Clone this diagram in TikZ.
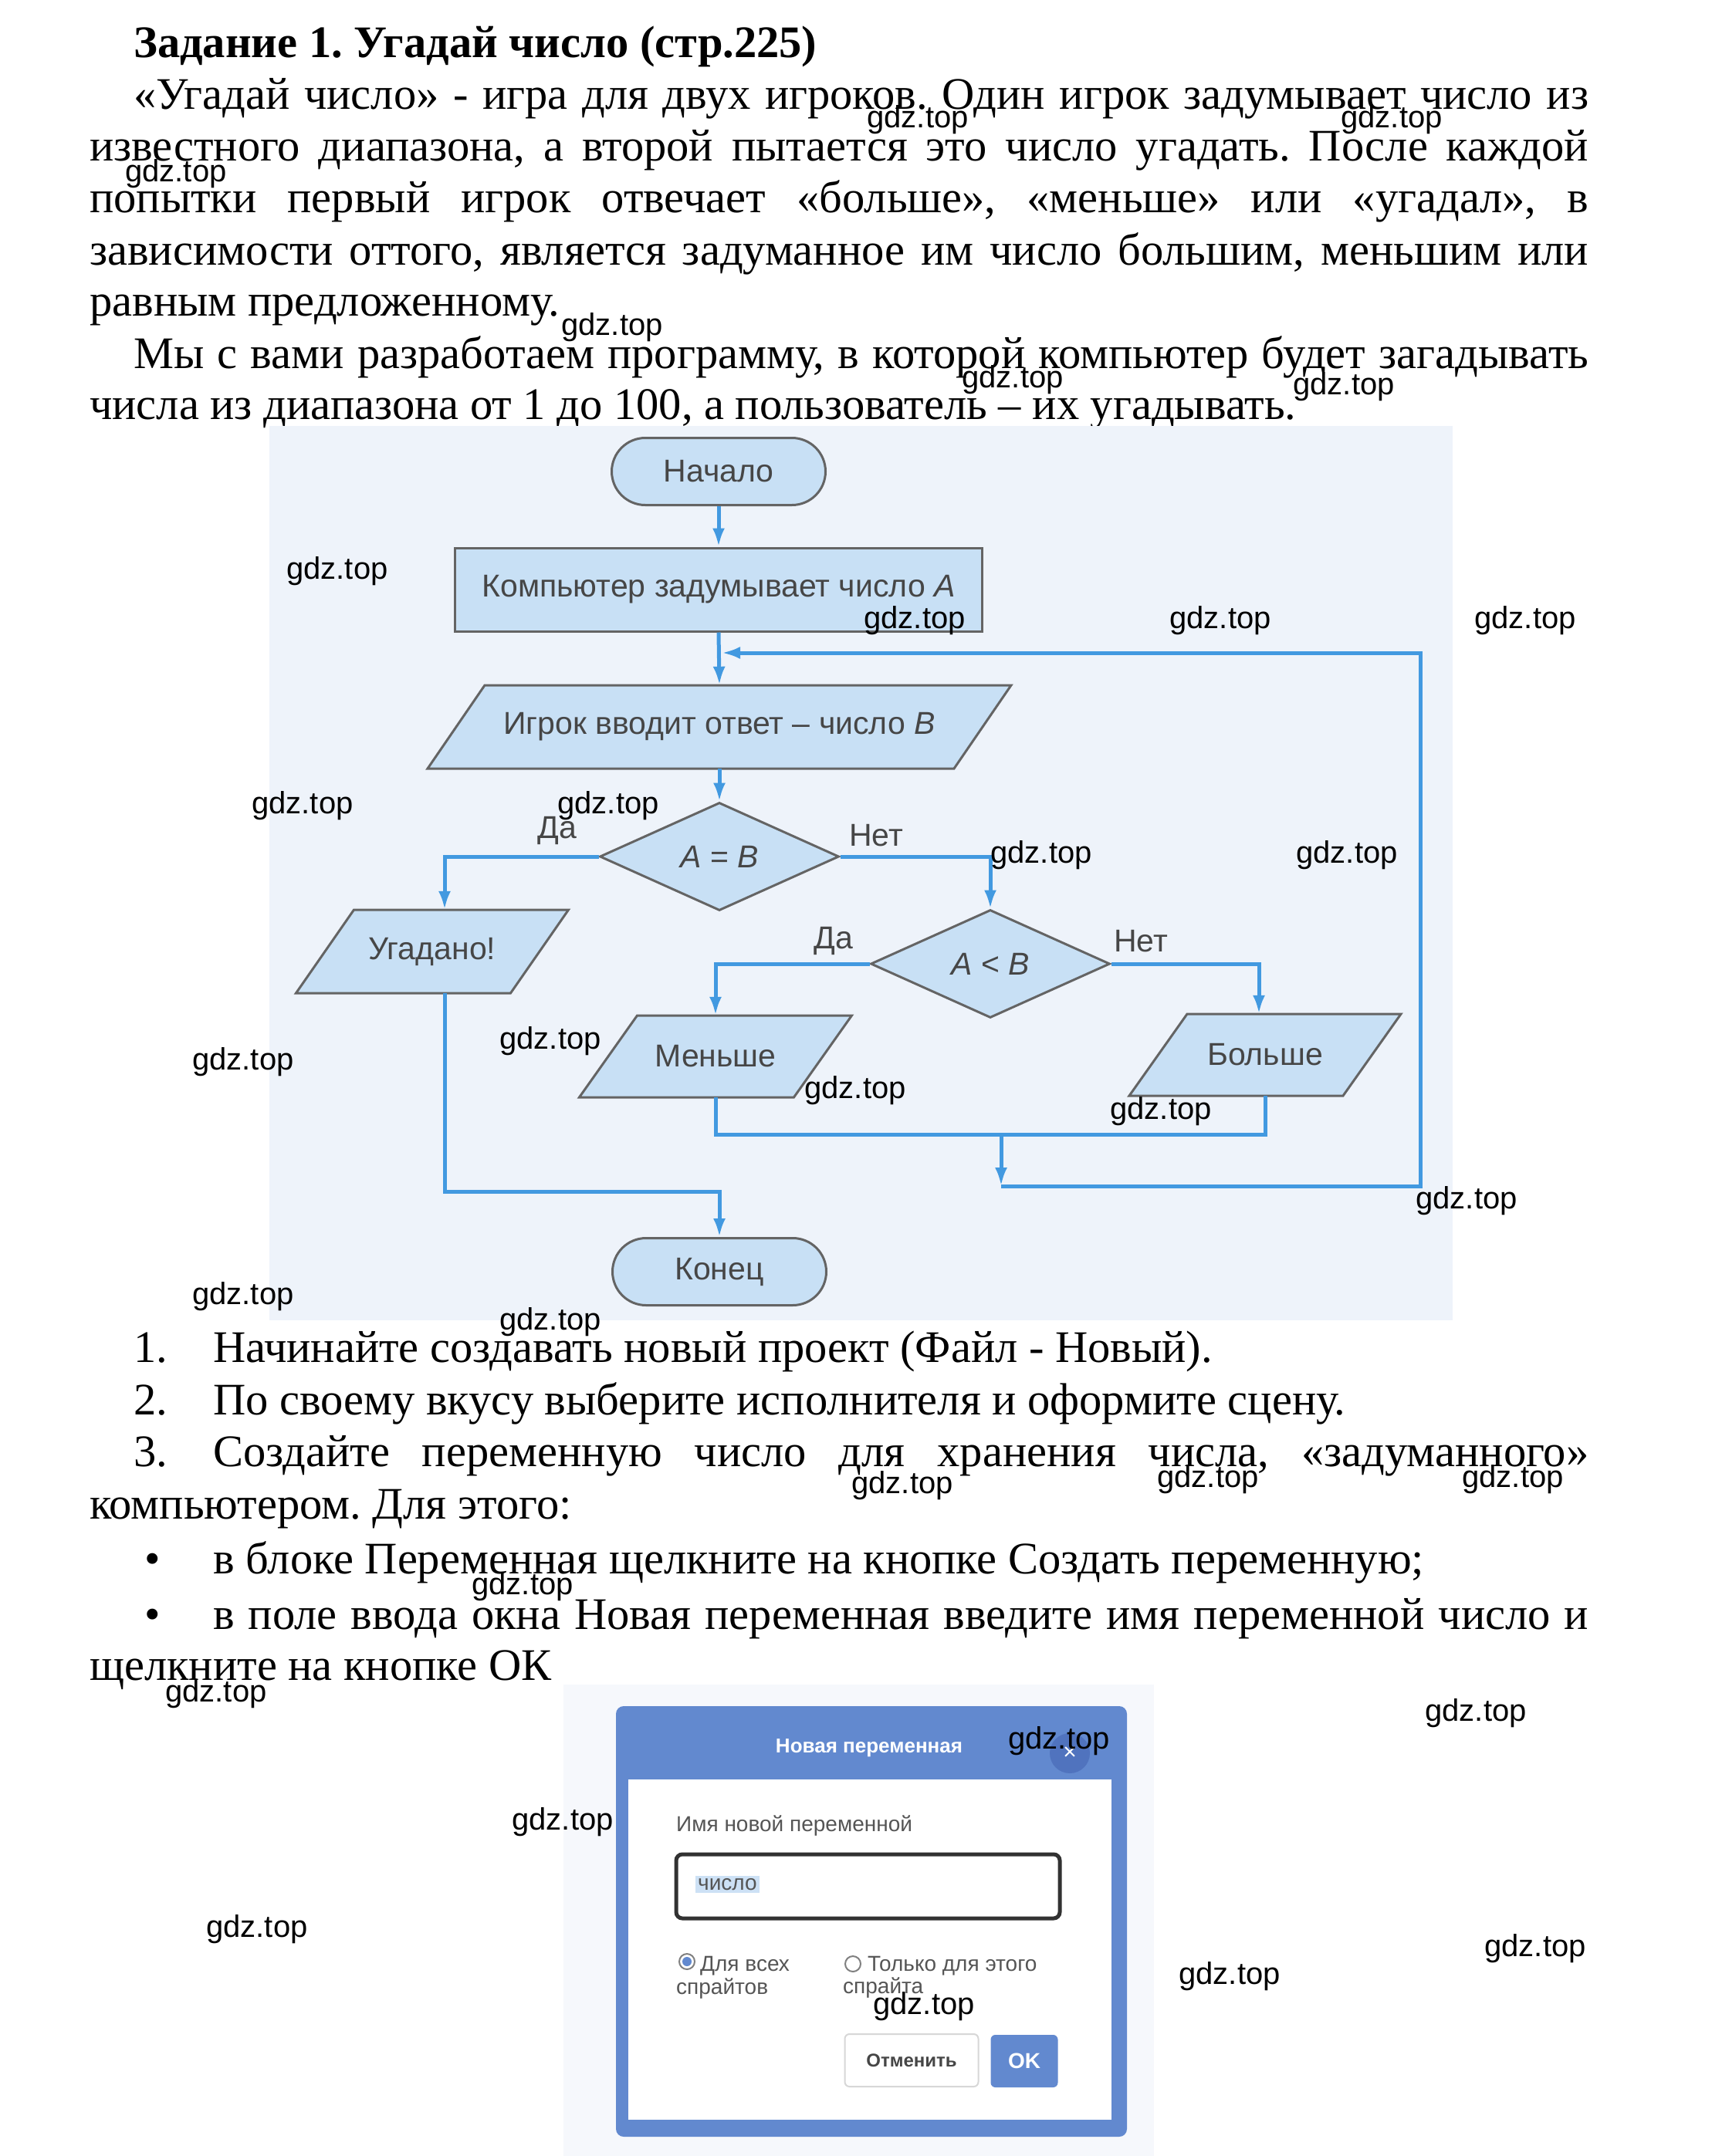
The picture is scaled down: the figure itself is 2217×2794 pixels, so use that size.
\documentclass[tikz,border=0pt]{standalone}
\usepackage{fontspec}
\setmainfont{Liberation Serif}
\newfontfamily\arialf{Liberation Sans}
\usetikzlibrary{shapes.misc,shapes.geometric,arrows.meta}
\definecolor{shapefill}{RGB}{200,224,245}
\definecolor{shapeline}{RGB}{100,100,100}
\definecolor{fctext}{RGB}{70,70,70}
\definecolor{flowblue}{RGB}{66,153,224}
\definecolor{fcbg}{RGB}{238,243,250}
\definecolor{dlgbg}{RGB}{246,248,252}
\definecolor{dlgblue}{RGB}{98,137,207}
\definecolor{dlgdark}{RGB}{80,115,190}
\definecolor{dlgtext}{RGB}{85,85,85}
\definecolor{hilite}{RGB}{205,225,245}
\newcommand\bodyfs{\fontsize{58.5}{70}\selectfont}
\newcommand\paral[7]{%
  \filldraw[shp] ({#2-#4/2+#6/2},{#3-#5/2}) -- ({#2+#4/2+#6/2},{#3-#5/2}) --
    ({#2+#4/2-#6/2},{#3+#5/2}) -- ({#2-#4/2-#6/2},{#3+#5/2}) -- cycle;
  \node[fc, minimum width=#4pt, minimum height=#5pt, inner sep=0pt] (#1) at (#2,#3) {#7};}
\frenchspacing
\begin{document}
\begin{tikzpicture}[x=1pt,y=-1pt,
  body/.style={anchor=base west, inner sep=0pt, font=\bodyfs},
  wm/.style={inner sep=0pt, font=\arialf\fontsize{40}{40}\selectfont, text=black},
  fc/.style={font=\arialf\fontsize{41}{41}\selectfont, text=fctext},
  shp/.style={draw=shapeline, fill=shapefill, line width=3pt},
  term/.style={shp, rounded rectangle, minimum width=277pt, minimum height=87pt, inner sep=0pt, fc},
  proc/.style={shp, rectangle, minimum width=683pt, minimum height=108pt, inner sep=0pt, fc},
  dec/.style={shp, diamond, minimum width=310pt, minimum height=140pt, inner sep=0pt, aspect=2.2, fc},
  flow/.style={draw=flowblue, line width=5pt},
  flowa/.style={flow, -{Latex[length=24pt,width=16pt]}},
  lbl/.style={fc, inner sep=0pt},
  dtxt/.style={inner sep=0pt, anchor=west, font=\arialf\fontsize{28}{28}\selectfont, text=dlgtext},
]
\useasboundingbox (0,0) rectangle (2217,2794);
\fill[white] (0,0) rectangle (2217,2794);

% ---------- top text ----------
\node[body, font=\bodyfs\bfseries] (title) at (173,75) {Задание 1. Угадай число (стр.225)};
\node[body] (p1) at (173,142) {\makebox[1885pt][s]{«Угадай число» - игра для двух игроков. Один игрок задумывает число из}};
\node[body] (p2) at (116,208) {\makebox[1942pt][s]{известного диапазона, а второй пытается это число угадать. После каждой}};
\node[body] (p3) at (116,275) {\makebox[1942pt][s]{попытки первый игрок отвечает «больше», «меньше» или «угадал», в}};
\node[body] (p4) at (116,343) {\makebox[1942pt][s]{зависимости оттого, является задуманное им число большим, меньшим или}};
\node[body] (p5) at (116,409) {равным предложенному.};
\node[body] (p6) at (173,477) {\makebox[1885pt][s]{Мы с вами разработаем программу, в которой компьютер будет загадывать}};
\node[body] (p7) at (116,543) {числа из диапазона от 1 до 100, а пользователь – их угадывать.};

% ---------- flowchart ----------
\fill[fcbg] (349,552) rectangle (1882,1711);
\node[term] (start) at (931,611) {Начало};
\node[proc] (box) at (931,764) {Компьютер задумывает число \textit{A}};
\paral{inp}{932}{942}{682}{108}{74}{Игрок вводит ответ – число \textit{B}}
\node[dec] (eq) at (932,1110) {\textit{A} = \textit{B}};
\paral{ug}{560}{1233}{278}{108}{75}{Угадано!}
\node[dec] (lt) at (1283,1249) {\textit{A} < \textit{B}};
\paral{men}{927}{1369}{278}{106}{75}{Меньше}
\paral{bol}{1639}{1367}{277}{106}{75}{Больше}
\node[term] (end) at (932,1648) {Конец};

\coordinate (m1) at (1297,1470);
\coordinate (m2) at (1297,1537);
\coordinate (r1) at (1840,1537);
\coordinate (r2) at (1840,846);
\coordinate (jn) at (935,846);
\coordinate (k1) at (932,1544);

\draw[flowa] (start.south) -- (box.north);
\draw[flowa] (box.south) -- (inp.north);
\draw[flowa] (inp.south) -- (eq.north);
\draw[flowa] (eq.west) -| ([xshift=16pt]ug.north);
\draw[flowa] (eq.east) -| (lt.north);
\draw[flowa] (lt.west) -| (men.north);
\draw[flowa] (lt.east) -| ([xshift=-8pt]bol.north);
\draw[flow] (men.south) |- (m1) -| (bol.south);
\draw[flowa] (m1) -- (m2);
\draw[flowa] (m2) -- (r1) -- (r2) -- (jn);
\draw[flowa] ([xshift=16pt]ug.south) |- (k1) -- (end.north);

\node[lbl] (yes1) at (722,1076) {Да};
\node[lbl] (no1) at (1135,1083) {Нет};
\node[lbl] (yes2) at (1080,1219) {Да};
\node[lbl] (no2) at (1478,1220) {Нет};

% ---------- lower text ----------
\node[body] (n1) at (173,1765) {1.};
\node[body] (t1) at (276,1765) {Начинайте создавать новый проект (Файл - Новый).};
\node[body] (n2) at (173,1833) {2.};
\node[body] (t2) at (276,1833) {По своему вкусу выберите исполнителя и оформите сцену.};
\node[body] (n3) at (173,1900) {3.};
\node[body] (t3) at (276,1900) {\makebox[1782pt][s]{Создайте переменную число для хранения числа, «задуманного»}};
\node[body] (t3b) at (116,1968) {компьютером. Для этого:};
\node[body] (b1) at (187,2039) {•};
\node[body] (t4) at (276,2039) {в блоке Переменная щелкните на кнопке Создать переменную;};
\node[body] (b2) at (187,2111) {•};
\node[body] (t5) at (276,2111) {\makebox[1782pt][s]{в поле ввода окна Новая переменная введите имя переменной число и}};
\node[body] (t5b) at (116,2177) {щелкните на кнопке ОК};

% ---------- dialog ----------
\fill[dlgbg] (730,2183) rectangle (1495,2794);
\fill[dlgblue, rounded corners=10pt] (798,2211) rectangle (1460,2769);
\fill[white] (814,2306) rectangle (1440,2747);
\node[inner sep=0pt, font=\arialf\bfseries\fontsize{26}{26}\selectfont, text=white] (dtitle) at (1126,2265) {Новая переменная};
\fill[dlgdark] (1386,2272) circle (26);
\node[inner sep=0pt, font=\arialf\fontsize{30}{30}\selectfont, text=white] (dclose) at (1386,2272) {×};
\node[dtxt] (dlabel) at (876,2366) {Имя новой переменной};
\node[draw={rgb,255:red,50;green,50;blue,50}, line width=5pt, rounded corners=8pt, minimum width=497pt, minimum height=83pt, inner sep=0pt] (inbox) at (1124.5,2444.5) {};
\node[dtxt, fill=hilite, inner sep=3pt] (dval) at (901,2442) {число};
\draw[draw=gray, line width=2pt] (890,2542) circle (10);
\fill[dlgblue] (890,2542) circle (6);
\node[dtxt] (r1a) at (907,2548) {Для всех};
\node[dtxt] (r1b) at (876,2577) {спрайтов};
\draw[draw=gray, line width=2pt] (1105,2545) circle (10);
\node[dtxt] (r2a) at (1124,2548) {Только для этого};
\node[dtxt] (r2b) at (1092,2576) {спрайта};
\node[draw={rgb,255:red,215;green,215;blue,215}, line width=2pt, fill=white, rounded corners=6pt, minimum width=173pt, minimum height=68pt, inner sep=0pt, font=\arialf\bfseries\fontsize{24}{24}\selectfont, text=fctext] (cancel) at (1181,2670) {Отменить};
\node[fill=dlgblue, rounded corners=6pt, minimum width=87pt, minimum height=68pt, inner sep=0pt, font=\arialf\bfseries\fontsize{28}{28}\selectfont, text=white] (ok) at (1327,2671) {OK};

% ---------- watermarks ----------
\foreach \x/\y [count=\i] in {1189/155,1803/155,228/225,793/424,1312/492,1741/501,437/740,1185/804,1581/804,1976/804,392/1044,788/1044,1349/1108,1745/1108,315/1376,713/1349,1108/1413,1504/1440,1900/1556,315/1680,713/1713,1169/1925,1565/1917,1960/1917,677/2056,280/2195,1912/2220,1372/2256,729/2361,333/2500,1989/2525,1593/2561,1197/2600}
  \node[wm] (wm\i) at (\x,\y) {gdz.top};
\end{tikzpicture}
\end{document}
